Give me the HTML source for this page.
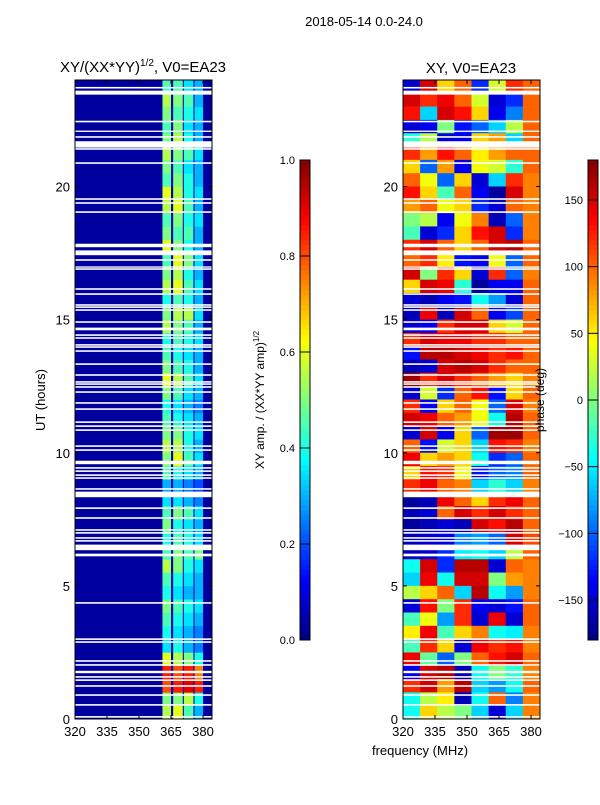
<!DOCTYPE html>
<html><head><meta charset="utf-8">
<style>
body{margin:0;background:#fff;}
svg text{font-family:"Liberation Sans",sans-serif;fill:#000;}
</style></head>
<body>
<svg id="fig" width="600" height="800" viewBox="0 0 600 800" xmlns="http://www.w3.org/2000/svg">
<rect width="600" height="800" fill="#fff"/>
<text x="364" y="26" font-size="13" text-anchor="middle">2018-05-14 0.0-24.0</text>
<text x="143" y="72" font-size="15" text-anchor="middle">XY/(XX*YY)<tspan font-size="10" dy="-6">1/2</tspan><tspan dy="6">, V0=EA23</tspan></text>
<text x="471" y="73" font-size="15" text-anchor="middle">XY, V0=EA23</text>
<g id="left"></g>
<g id="right"></g>
<g id="axes"></g>
<text x="45" y="400" font-size="13" text-anchor="middle" transform="rotate(-90 45 400)">UT (hours)</text>
<text x="420" y="755" font-size="13" text-anchor="middle">frequency (MHz)</text>
<text x="264" y="400" font-size="12" text-anchor="middle" transform="rotate(-90 264 400)">XY amp. / (XX*YY amp)<tspan font-size="8" dy="-5">1/2</tspan></text>
<text x="544" y="400" font-size="12" text-anchor="middle" transform="rotate(-90 544 400)">phase (deg)</text>
</svg>
<script>
const flagged = [[23.68,23.74],[23.45,23.6],[22.41,22.47],[22.05,22.1],[21.83,21.89],[21.46,21.7],[21.38,21.44],[20.85,20.91],[19.5,19.56],[19.35,19.41],[19.01,19.07],[17.72,17.85],[17.42,17.6],[17.21,17.27],[16.95,17.0],[16.87,16.93],[16.12,16.18],[15.93,15.99],[15.52,15.58],[15.44,15.5],[15.33,15.39],[14.88,14.94],[14.6,14.7],[14.39,14.45],[14.28,14.34],[14.02,14.08],[13.94,14.0],[13.79,13.85],[13.3,13.36],[12.89,12.95],[12.63,12.69],[12.55,12.61],[12.44,12.5],[12.25,12.31],[11.84,11.9],[11.61,11.67],[11.12,11.18],[10.97,11.03],[10.82,10.88],[10.22,10.28],[10.07,10.13],[9.57,9.7],[9.4,9.46],[9.28,9.34],[9.13,9.19],[9.02,9.08],[8.61,8.67],[8.33,8.54],[7.89,7.95],[7.52,7.58],[7.07,7.13],[6.96,7.02],[6.77,6.83],[6.66,6.72],[6.34,6.55],[6.11,6.21],[4.33,4.39],[2.97,3.03],[2.86,2.92],[2.15,2.21],[2.0,2.06],[1.72,1.81],[1.55,1.61],[1.43,1.49],[1.21,1.27],[0.87,0.93],[0.5,0.56],[0.05,0.11]];
const bandFreqs = [[361,365],[366,370.5],[371,375.5],[376,380]];
const bgAmp = 0.03;
const gapAmp = 0.06;
const band1 = [0.55,0.5,0.8,0.85,0.6,0.35,0.4,0.45,0.5,0.4,0.45,0.55,0.45,0.4,0.5,0.45,0.35,0.3,0.45,0.5,0.55,0.5,0.45,0.4,0.5,0.6,0.5,0.45,0.4,0.55,0.5,0.4,0.55,0.5,0.45,0.6,0.5,0.45,0.55,0.6,0.45,0.5,0.55,0.5,0.45,0.5,0.55,0.45];
const band2 = [0.6,0.5,0.85,0.8,0.55,0.4,0.35,0.4,0.45,0.35,0.4,0.5,0.5,0.45,0.4,0.5,0.35,0.3,0.4,0.6,0.55,0.5,0.4,0.35,0.45,0.55,0.45,0.4,0.45,0.5,0.55,0.45,0.6,0.55,0.6,0.5,0.45,0.5,0.6,0.55,0.5,0.45,0.5,0.55,0.5,0.45,0.5,0.45];
const band3 = [0.45,0.55,0.9,0.85,0.5,0.3,0.3,0.35,0.4,0.3,0.35,0.4,0.45,0.4,0.35,0.45,0.3,0.25,0.35,0.45,0.4,0.4,0.35,0.3,0.35,0.45,0.4,0.35,0.4,0.45,0.55,0.4,0.45,0.4,0.5,0.4,0.45,0.4,0.45,0.4,0.4,0.35,0.45,0.4,0.35,0.4,0.45,0.35];
const band4 = [0.3,0.4,0.85,0.75,0.4,0.25,0.25,0.3,0.35,0.3,0.3,0.35,0.5,0.35,0.3,0.35,0.25,0.2,0.3,0.35,0.3,0.35,0.3,0.25,0.3,0.35,0.3,0.3,0.35,0.3,0.35,0.3,0.35,0.3,0.35,0.3,0.3,0.35,0.3,0.35,0.3,0.3,0.35,0.3,0.3,0.35,0.3,0.3];
const bands = [band1,band2,band3,band4];
const phaseRows = [
[-150,150,60,100,-120,30,120,100],[150,120,140,100,30,-150,-120,100],[130,-60,150,130,60,-140,-90,100],[-150,-140,0,-130,-100,-60,20,100],
[-30,20,-150,-140,60,80,-60,100],[120,80,130,100,50,80,100,100],[60,-100,80,-140,40,30,-30,100],[100,40,-100,60,-150,-60,120,90],
[130,60,-20,100,-140,-170,150,90],[80,100,40,60,-120,-150,100,90],[0,20,-140,40,90,-160,-100,90],[-20,-150,-120,60,130,150,-120,90],
[120,150,100,60,100,150,160,100],[100,120,50,-130,-140,40,-100,100],[150,0,120,60,-150,120,-100,90],[60,150,140,-30,-170,-140,-140,100],
[-150,-160,-140,-130,-40,-80,-150,100],[-160,140,-160,150,100,-140,-110,100],[-150,-140,120,150,150,60,30,100],[120,150,140,140,120,120,100,100],
[-130,160,160,150,140,120,130,100],[-160,-150,150,160,150,120,100,100],[170,120,150,120,100,80,60,90],[-150,30,-120,100,130,-130,60,100],
[120,-140,60,100,40,-100,150,90],[150,140,100,80,40,-40,160,100],[-150,150,-140,60,-100,170,170,100],[100,-130,30,60,-60,130,120,90],
[140,60,80,60,-40,-120,-100,100],[60,130,120,40,-130,-100,-90,100],[120,140,100,90,-60,-30,-60,90],[-170,-160,140,100,60,120,140,100],
[-160,-150,100,150,120,150,120,100],[-170,-160,-150,-160,150,130,160,100],[-160,-150,-140,-90,-80,-100,150,110],[-160,-150,-120,-50,-40,-60,20,100],
[-40,150,-120,160,160,-150,100,90],[-60,140,-40,150,150,0,80,90],[20,60,100,-60,160,-40,-80,90],[-150,130,0,120,-140,-150,-130,100],
[-20,40,-80,120,-150,140,-150,100],[50,140,-20,60,90,-40,-50,90],[-20,120,60,-150,140,120,130,90],[140,-10,-100,0,100,130,150,100],
[-140,150,160,-160,-40,0,-30,90],[120,150,80,160,-60,-80,-40,100],[-40,20,50,-160,-40,100,-90,90],[-40,60,20,0,-60,-150,-60,90]];
const xTicks = [320,335,350,365,380];
const yTicks = [0,5,10,15,20];
const ampTicks = ["0.0","0.2","0.4","0.6","0.8","1.0"];
const phaseTicks = [-150,-100,-50,0,50,100,150];

const NS="http://www.w3.org/2000/svg";
function jet(v){v=Math.max(0,Math.min(1,v));
 const f=(x)=>Math.max(0,Math.min(1,x));
 const r=f(Math.min(4*v-1.5,-4*v+4.5)),g=f(Math.min(4*v-0.5,-4*v+3.5)),b=f(Math.min(4*v+0.5,-4*v+2.5));
 return `rgb(${Math.round(r*255)},${Math.round(g*255)},${Math.round(b*255)})`;}
function mk(tag,attrs,parent){const e=document.createElementNS(NS,tag);for(const k in attrs)e.setAttribute(k,attrs[k]);parent.appendChild(e);return e;}
const fMin=320,fMax=384.2,T=24,yTop=80,yBot=719;
function yS(h){return yBot-(h/T)*(yBot-yTop);}
function xS(x0,f){return x0+(f-fMin)/(fMax-fMin)*137;}
const L=document.getElementById('left'),R=document.getElementById('right'),A=document.getElementById('axes');
let bg=mk('rect',{x:75,y:yTop,width:137,height:yBot-yTop,fill:jet(bgAmp)},L);


let gp=mk('rect',{x:xS(75,bandFreqs[0][0])-1,y:yTop,width:xS(75,bandFreqs[3][1])-xS(75,bandFreqs[0][0])+2,height:yBot-yTop,fill:jet(gapAmp)},L);


bands.forEach((arr,bi)=>{arr.forEach((v,ri)=>{
 const x1=xS(75,bandFreqs[bi][0]),x2=xS(75,bandFreqs[bi][1]);
 const r=mk('rect',{x:x1,y:yS((ri+1)*0.5),width:x2-x1,height:yS(ri*0.5)-yS((ri+1)*0.5)+0.3,fill:jet(v)},L);
 
 
});});
const nc=8,cw=(fMax-fMin)/nc;
phaseRows.forEach((row,ri)=>{row.forEach((p,ci)=>{
 const h1=T-ri*0.5,h0=h1-0.5;
 const x1=xS(403,fMin+ci*cw),x2=xS(403,fMin+(ci+1)*cw);
 const r=mk('rect',{x:x1,y:yS(h1),width:x2-x1+0.3,height:yS(h0)-yS(h1)+0.3,fill:jet((p+180)/360)},R);
 
 
});});
[[75,L],[403,R]].forEach(([x0,g])=>{flagged.forEach(s=>{
 const r=mk('rect',{x:x0,y:yS(s[1]),width:137,height:Math.max(1.3,yS(s[0])-yS(s[1])),fill:'#fff'},g);
 
 
});});
[75,403].forEach((x0,pi)=>{
 const fr=mk('rect',{x:x0,y:yTop,width:137,height:yBot-yTop,fill:'none',stroke:'#000','stroke-width':1},A);
 
 
 xTicks.forEach(t=>{const x=xS(x0,t);
  mk('line',{x1:x,x2:x,y1:yBot,y2:yBot-4,stroke:'#000'},A);mk('line',{x1:x,x2:x,y1:yTop,y2:yTop+4,stroke:'#000'},A);
  const tx=mk('text',{x:x,y:yBot+17,'font-size':13,'text-anchor':'middle'},A);tx.textContent=t;
  
  });
 yTicks.forEach(t=>{const y=yS(t);
  mk('line',{x1:x0,x2:x0+4,y1:y,y2:y,stroke:'#000'},A);mk('line',{x1:x0+137,x2:x0+133,y1:y,y2:y,stroke:'#000'},A);
  const tx=mk('text',{x:x0-5,y:y+5,'font-size':13,'text-anchor':'end'},A);tx.textContent=t;
  
  });
});
function cbar(x0,ticks,vals,name){
 const g=mk('g',{},A);
 
 
 for(let i=0;i<96;i++){mk('rect',{x:x0,y:640-(i+1)*5,width:10,height:5.3,fill:jet((i+0.5)/96)},g);}
 mk('rect',{x:x0,y:160,width:10,height:480,fill:'none',stroke:'#000'},g);
 ticks.forEach((t,i)=>{const y=640-vals[i]*480;
  mk('line',{x1:x0,x2:x0+10,y1:y,y2:y,stroke:'#000'},g);
  const tx=mk('text',{x:x0-5,y:y+4,'font-size':11,'text-anchor':'end'},g);tx.textContent=t;
  
  });
}
cbar(300,ampTicks,ampTicks.map(Number),'amp-colorbar');
cbar(588,phaseTicks.map(t=>t<0?'\u2212'+(-t):String(t)),phaseTicks.map(t=>(t+180)/360),'phase-colorbar');
</script>
</body></html>
